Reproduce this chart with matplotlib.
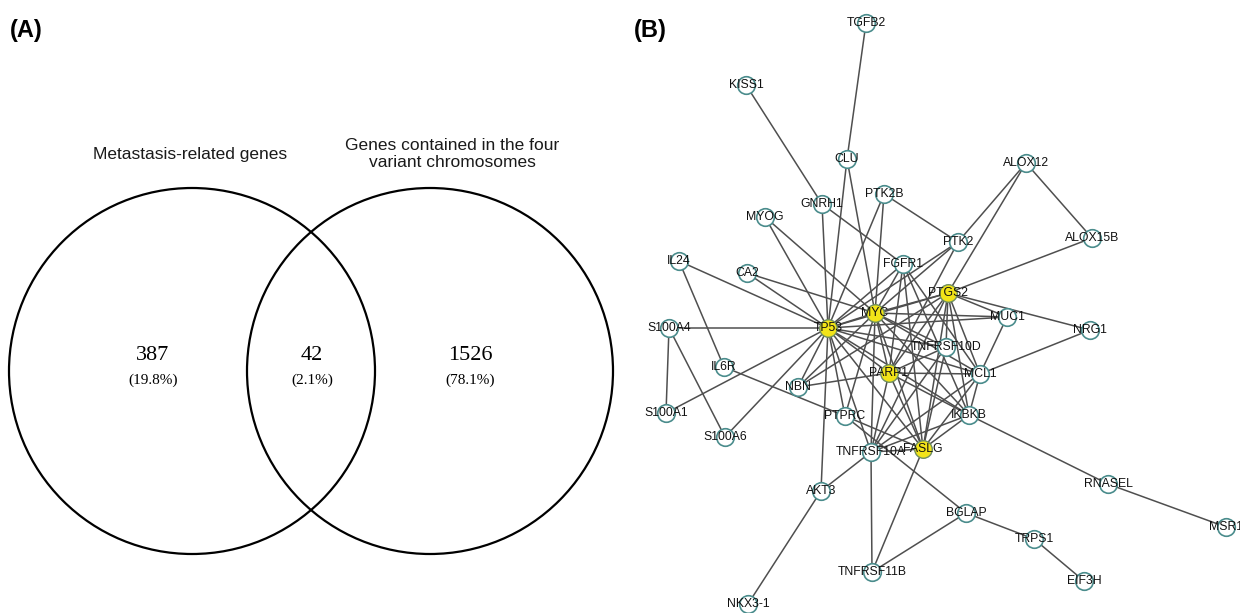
import matplotlib.pyplot as plt
from matplotlib.patches import Circle

# ---- panel A: venn ----
set_names = ["Metastasis-related genes", "Genes contained in the four\nvariant chromosomes"]
region_counts = [387, 42, 1526]
region_pcts = ["(19.8%)", "(2.1%)", "(78.1%)"]
circle_x = [192, 430]
circle_y = [371, 371]
circle_r = [183, 183]
region_x = [153, 312, 470]
name_x = [190, 452]
name_y = [155, 154]

# ---- panel B: network ----
nodes = {
    "TGFB2": (866, 23), "KISS1": (746, 85), "CLU": (847, 159), "PTK2B": (884, 194),
    "GNRH1": (822, 204), "ALOX12": (1026, 163), "MYOG": (765, 217), "PTK2": (958, 242),
    "ALOX15B": (1092, 238), "IL24": (679, 261), "CA2": (747, 273), "FGFR1": (903, 264),
    "PTGS2": (948, 293), "MYC": (875, 313), "TP53": (828, 328), "S100A4": (669, 328),
    "MUC1": (1007, 317), "NRG1": (1090, 330), "TNFRSF10D": (946, 347), "IL6R": (724, 367),
    "PARP1": (889, 373), "MCL1": (980, 374), "NBN": (798, 387), "S100A1": (666, 413),
    "PTPRC": (845, 416), "IKBKB": (969, 415), "S100A6": (725, 437), "TNFRSF10A": (871, 452),
    "FASLG": (923, 449), "AKT3": (821, 491), "RNASEL": (1108, 484), "BGLAP": (966, 513),
    "MSR1": (1226, 527), "TRPS1": (1034, 539), "TNFRSF11B": (872, 572), "EIF3H": (1084, 581),
    "NKX3-1": (748, 604),
}
hubs = ["TP53", "MYC", "PTGS2", "PARP1", "FASLG"]
edges = [
    ("TGFB2", "CLU"), ("KISS1", "GNRH1"), ("CLU", "TP53"), ("CLU", "MYC"),
    ("GNRH1", "TP53"), ("GNRH1", "FGFR1"), ("PTK2B", "TP53"), ("PTK2B", "MYC"), ("PTK2B", "PTK2"),
    ("MYOG", "TP53"), ("MYOG", "MYC"), ("CA2", "TP53"), ("CA2", "MYC"),
    ("IL24", "TP53"), ("IL24", "IL6R"), ("S100A4", "TP53"), ("S100A4", "S100A1"), ("S100A4", "S100A6"),
    ("S100A1", "TP53"), ("S100A6", "TP53"), ("IL6R", "PTPRC"),
    ("ALOX12", "PTK2"), ("ALOX12", "PTGS2"), ("ALOX12", "ALOX15B"), ("ALOX15B", "PTGS2"),
    ("PTK2", "TP53"), ("PTK2", "MYC"), ("PTK2", "PARP1"),
    ("MUC1", "TP53"), ("MUC1", "MYC"), ("MUC1", "PTGS2"), ("MUC1", "MCL1"),
    ("NRG1", "PTGS2"), ("NRG1", "MCL1"),
    ("TP53", "MYC"), ("TP53", "PTGS2"), ("TP53", "PARP1"), ("TP53", "FASLG"),
    ("MYC", "PTGS2"), ("MYC", "PARP1"), ("MYC", "FASLG"),
    ("PTGS2", "PARP1"), ("PTGS2", "FASLG"), ("PARP1", "FASLG"),
    ("FGFR1", "TP53"), ("FGFR1", "MYC"), ("FGFR1", "PARP1"), ("FGFR1", "MCL1"),
    ("FGFR1", "IKBKB"), ("FGFR1", "FASLG"),
    ("TNFRSF10D", "TP53"), ("TNFRSF10D", "MYC"), ("TNFRSF10D", "PTGS2"), ("TNFRSF10D", "PARP1"),
    ("TNFRSF10D", "FASLG"), ("TNFRSF10D", "TNFRSF10A"),
    ("MCL1", "TP53"), ("MCL1", "MYC"), ("MCL1", "PTGS2"), ("MCL1", "PARP1"),
    ("MCL1", "FASLG"), ("MCL1", "TNFRSF10A"), ("MCL1", "IKBKB"),
    ("IKBKB", "TP53"), ("IKBKB", "MYC"), ("IKBKB", "PTGS2"), ("IKBKB", "PARP1"),
    ("IKBKB", "FASLG"), ("IKBKB", "TNFRSF10A"), ("IKBKB", "RNASEL"),
    ("NBN", "TP53"), ("NBN", "MYC"), ("NBN", "PARP1"), ("NBN", "PTGS2"),
    ("PTPRC", "TP53"), ("PTPRC", "MYC"), ("PTPRC", "FASLG"), ("PTPRC", "BGLAP"),
    ("TNFRSF10A", "TP53"), ("TNFRSF10A", "MYC"), ("TNFRSF10A", "PTGS2"), ("TNFRSF10A", "PARP1"),
    ("TNFRSF10A", "FASLG"), ("TNFRSF10A", "TNFRSF11B"), ("TNFRSF10A", "AKT3"),
    ("AKT3", "TP53"), ("AKT3", "NKX3-1"), ("FASLG", "TNFRSF11B"),
    ("BGLAP", "TNFRSF11B"), ("BGLAP", "TRPS1"), ("TRPS1", "EIF3H"), ("RNASEL", "MSR1"),
]

plt.rcParams['font.family'] = ['Liberation Sans', 'DejaVu Sans']
fig = plt.figure(figsize=(12.4, 6.13), dpi=100)
ax = fig.add_axes([0, 0, 1, 1])
ax.set_xlim(0, 1240)
ax.set_ylim(613, 0)
ax.axis('off')

# venn
for cx, cy, r in zip(circle_x, circle_y, circle_r):
    ax.add_patch(Circle((cx, cy), r, fill=False, edgecolor='black', linewidth=1.6))
for name, nx, ny in zip(set_names, name_x, name_y):
    ax.text(nx, ny, name, ha='center', va='center', fontsize=12.5, linespacing=1.15,
            color='#1a1a1a')
for n, p, rx in zip(region_counts, region_pcts, region_x):
    ax.text(rx, 355, str(n), ha='center', va='center', fontsize=16, family='Liberation Serif')
    ax.text(rx, 380, p, ha='center', va='center', fontsize=11, family='Liberation Serif')

ax.text(10, 30, "(A)", ha='left', va='center', fontsize=17, fontweight='bold')
ax.text(634, 30, "(B)", ha='left', va='center', fontsize=17, fontweight='bold')

# network
for a, b in edges:
    (x1, y1), (x2, y2) = nodes[a], nodes[b]
    ax.plot([x1, x2], [y1, y2], color='#4f4f4f', linewidth=1.1, zorder=1)
for name, (x, y) in nodes.items():
    if name in hubs:
        ax.scatter(x, y, s=160, facecolor='#f2e418', edgecolor='#6f8f60', linewidth=1.0, zorder=2)
    else:
        ax.scatter(x, y, s=160, facecolor='white', edgecolor='#4a8c8c', linewidth=1.2, zorder=2)
    ax.text(x, y, name, ha='center', va='center', fontsize=8.8, color='#111111', zorder=3)

fig.savefig("out.png", dpi=100)
